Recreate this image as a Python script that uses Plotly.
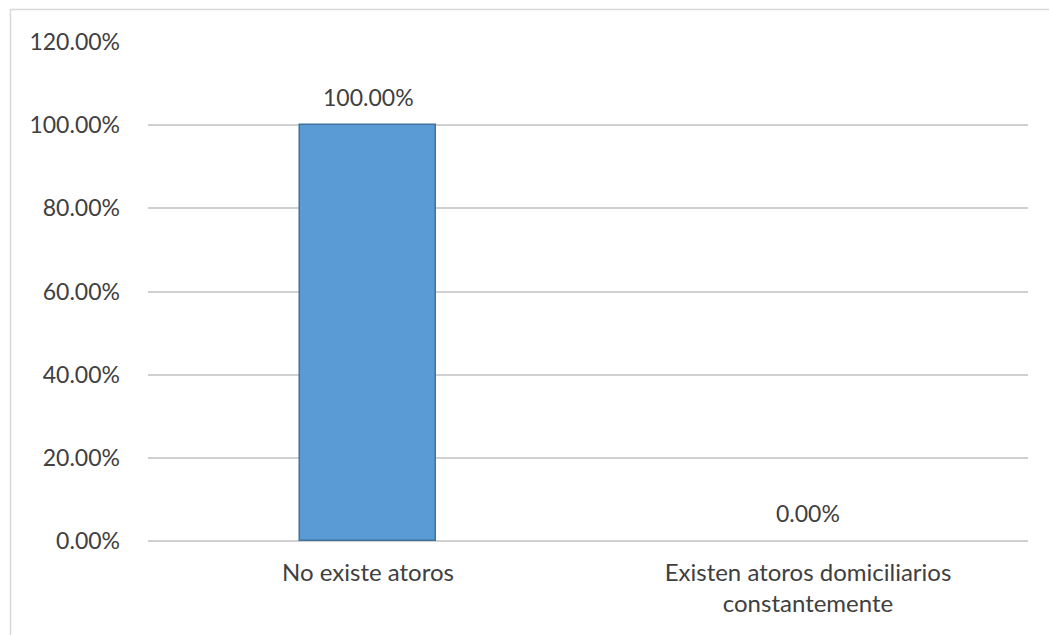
import plotly.graph_objects as go

categories = ["No existe atoros", "Existen atoros domiciliarios<br>constantemente"]
values = [1.00, 0.00]
tick_vals = [0, 0.2, 0.4, 0.6, 0.8, 1.0, 1.2]
tick_text = ["0.00%", "20.00%", "40.00%", "60.00%", "80.00%", "100.00%", "120.00%"]

W, H = 1049, 635
L, R, T, B = 148, 21, 42, 94
plot_w = W - L - R
plot_h = H - T - B

font_family = "Lato, Open Sans, sans-serif"
font_size = 23
cat_font_size = 24
text_color = "#404040"
grid_color = "#d0d0d0"

fig = go.Figure()
fig.add_trace(go.Bar(
    x=categories,
    y=values,
    width=0.31,
    marker=dict(
        color="#5b9bd5",
        line=dict(color="#41719c", width=[1.5 if v > 0 else 0 for v in values]),
    ),
    hoverinfo="skip",
))

# value labels above each bar
for c, v in zip(categories, values):
    fig.add_annotation(
        x=c, y=v, text=f"{v*100:.2f}%", showarrow=False,
        yanchor="bottom", yshift=12,
        font=dict(family=font_family, size=font_size, color=text_color),
    )

# outer chart border
def px_x(p):
    return (p - L) / plot_w

def px_y(p):
    return (H - B - p) / plot_h

fig.add_shape(
    type="rect", xref="paper", yref="paper",
    x0=px_x(10.5), x1=px_x(W + 20), y0=px_y(H + 20), y1=px_y(9.5),
    line=dict(color="#d9d9d9", width=1.5), fillcolor="rgba(0,0,0,0)",
)

fig.update_layout(
    width=W, height=H,
    margin=dict(l=L, r=R, t=T, b=B),
    paper_bgcolor="white", plot_bgcolor="white",
    showlegend=False,
    bargap=0,
    font=dict(family=font_family, size=font_size, color=text_color),
    xaxis=dict(
        showgrid=False, showline=False, zeroline=False,
        ticks="", ticklabelstandoff=15,
        tickfont=dict(family=font_family, size=cat_font_size, color=text_color),
    ),
    yaxis=dict(
        range=[0, 1.2], tickvals=tick_vals, ticktext=tick_text,
        showgrid=True, gridcolor=grid_color, gridwidth=1.5,
        zeroline=True, zerolinecolor=grid_color, zerolinewidth=1.5,
        showline=False, ticks="", ticklabelstandoff=27,
        tickfont=dict(family=font_family, size=font_size, color=text_color),
    ),
)

fig.write_html("out.html")
